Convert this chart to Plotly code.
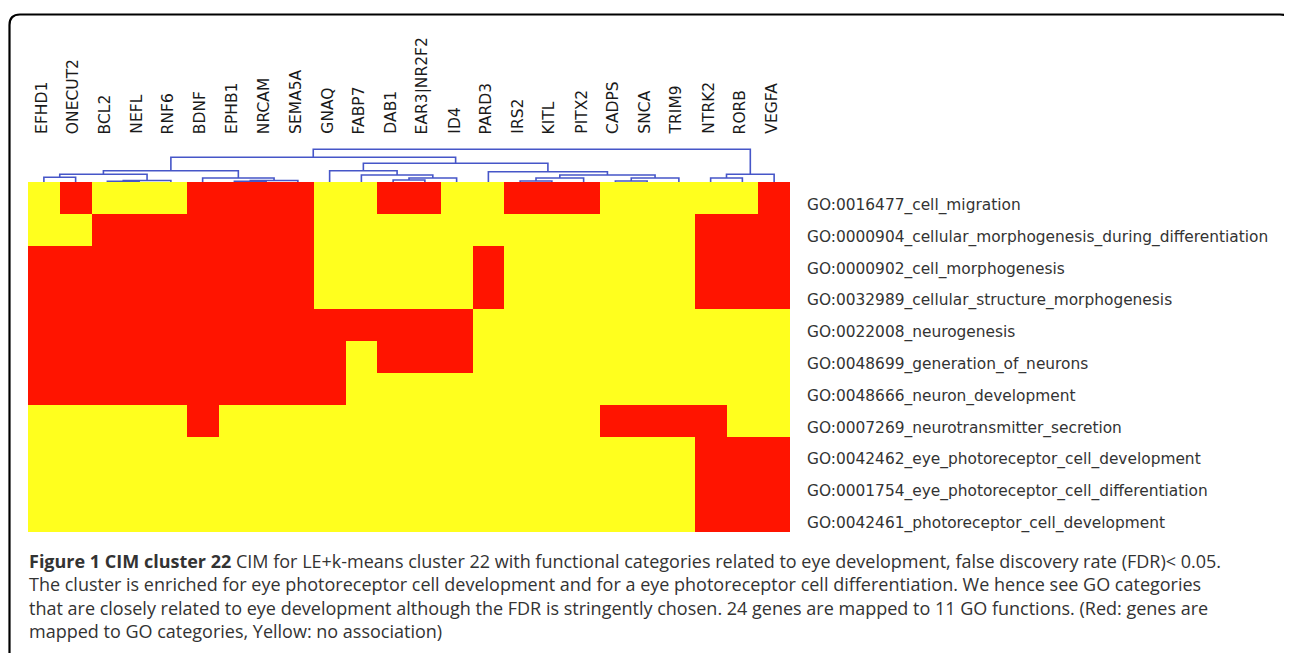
import plotly.graph_objects as go

W, H = 1292, 653
OFF = 8  # default page margin of the html body

genes = ["EFHD1", "ONECUT2", "BCL2", "NEFL", "RNF6", "BDNF", "EPHB1", "NRCAM",
         "SEMA5A", "GNAQ", "FABP7", "DAB1", "EAR3|NR2F2", "ID4", "PARD3", "IRS2",
         "KITL", "PITX2", "CADPS", "SNCA", "TRIM9", "NTRK2", "RORB", "VEGFA"]

go_terms = [
    "GO:0016477_cell_migration",
    "GO:0000904_cellular_morphogenesis_during_differentiation",
    "GO:0000902_cell_morphogenesis",
    "GO:0032989_cellular_structure_morphogenesis",
    "GO:0022008_neurogenesis",
    "GO:0048699_generation_of_neurons",
    "GO:0048666_neuron_development",
    "GO:0007269_neurotransmitter_secretion",
    "GO:0042462_eye_photoreceptor_cell_development",
    "GO:0001754_eye_photoreceptor_cell_differentiation",
    "GO:0042461_photoreceptor_cell_development",
]

# 1 = gene mapped to GO category (red), 0 = no association (yellow)
row_cell_migration = [0,1,0,0,0,1,1,1,1,0,0,1,1,0,0,1,1,1,0,0,0,0,0,1]
row_cell_morph_diff = [0,0,1,1,1,1,1,1,1,0,0,0,0,0,0,0,0,0,0,0,0,1,1,1]
row_cell_morph      = [1,1,1,1,1,1,1,1,1,0,0,0,0,0,1,0,0,0,0,0,0,1,1,1]
row_cell_struct     = [1,1,1,1,1,1,1,1,1,0,0,0,0,0,1,0,0,0,0,0,0,1,1,1]
row_neurogenesis    = [1,1,1,1,1,1,1,1,1,1,1,1,1,1,0,0,0,0,0,0,0,0,0,0]
row_gen_neurons     = [1,1,1,1,1,1,1,1,1,1,0,1,1,1,0,0,0,0,0,0,0,0,0,0]
row_neuron_dev      = [1,1,1,1,1,1,1,1,1,1,0,0,0,0,0,0,0,0,0,0,0,0,0,0]
row_neurotrans      = [0,0,0,0,0,1,0,0,0,0,0,0,0,0,0,0,0,0,1,1,1,1,0,0]
row_eye_pr_dev      = [0,0,0,0,0,0,0,0,0,0,0,0,0,0,0,0,0,0,0,0,0,1,1,1]
row_eye_pr_diff     = [0,0,0,0,0,0,0,0,0,0,0,0,0,0,0,0,0,0,0,0,0,1,1,1]
row_pr_dev          = [0,0,0,0,0,0,0,0,0,0,0,0,0,0,0,0,0,0,0,0,0,1,1,1]

z = [row_cell_migration, row_cell_morph_diff, row_cell_morph, row_cell_struct,
     row_neurogenesis, row_gen_neurons, row_neuron_dev, row_neurotrans,
     row_eye_pr_dev, row_eye_pr_diff, row_pr_dev]

# hierarchical clustering merges (scipy-like): (left, right, height)
# ids 0..23 are leaves, 24+ are merges in order
merge_left   = [2, 24, 0, 26, 6, 28, 5, 27, 11, 32, 10, 9, 15, 36, 18, 38, 37, 14, 35, 31, 21, 44, 43]
merge_right  = [3, 4, 1, 25, 7, 8, 29, 30, 12, 13, 33, 34, 16, 17, 19, 20, 39, 40, 41, 42, 22, 23, 45]
merge_height = [0.6, 1.5, 4.7, 7.7, 0.6, 1.5, 4.0, 11.3, 2.0, 4.0, 7.0, 11.3, 1.0, 4.0, 1.0, 4.0,
                7.0, 10.3, 18.7, 24.7, 4.0, 7.7, 32.7]

caption_bold = "Figure 1 CIM cluster 22"
caption_lines = [
    " CIM for LE+k-means cluster 22 with functional categories related to eye development, false discovery rate (FDR)< 0.05.",
    "The cluster is enriched for eye photoreceptor cell development and for a eye photoreceptor cell differentiation. We hence see GO categories",
    "that are closely related to eye development although the FDR is stringently chosen. 24 genes are mapped to 11 GO functions. (Red: genes are",
    "mapped to GO categories, Yellow: no association)",
]

RED = "#FF1400"
YELLOW = "#FFFF1E"
BLUE = "#4656C8"

# --- layout geometry (page pixels) ---
hm_left, hm_right, hm_top, hm_bottom = 28, 790, 182, 532
dend_span = 34  # px above heatmap for dendrogram axis


def py(y):
    return 1 - (y - OFF) / H


def px(x):
    return (x - OFF) / W


# --- dendrogram coordinates ---
n = len(genes)
pos = {i: (float(i), 0.0) for i in range(n)}
dx, dy = [], []
for k, (a, b, h) in enumerate(zip(merge_left, merge_right, merge_height)):
    xa, ha = pos[a]
    xb, hb = pos[b]
    dx += [xa, xa, xb, xb, None]
    dy += [ha, h, h, hb, None]
    pos[n + k] = ((xa + xb) / 2, h)

fig = go.Figure()
fig.add_trace(go.Heatmap(
    z=z, x=list(range(n)), y=list(range(len(go_terms))),
    colorscale=[[0, YELLOW], [0.5, YELLOW], [0.5, RED], [1, RED]],
    zmin=0, zmax=1, showscale=False, hoverinfo="skip",
))
fig.add_trace(go.Scatter(
    x=dx, y=dy, mode="lines", line=dict(color=BLUE, width=1.6),
    xaxis="x", yaxis="y2", hoverinfo="skip", showlegend=False,
))

annotations = []
for i, g in enumerate(genes):
    annotations.append(dict(
        x=i, xref="x", y=py(136), yref="paper", text=g, textangle=-90,
        showarrow=False, xanchor="center", yanchor="bottom", xshift=-2,
        font=dict(family="DejaVu Sans", size=15.5, color="#1a1a1a"),
    ))
for j, t in enumerate(go_terms):
    annotations.append(dict(
        x=px(805), xref="paper", y=j, yref="y", text=t, showarrow=False,
        xanchor="left", yanchor="middle", yshift=-7.5,
        font=dict(family="DejaVu Sans", size=15.4, color="#333333"),
    ))

caption_text = "<b>" + caption_bold + "</b>" + "<br>".join(caption_lines)
annotations.append(dict(
    x=px(27), xref="paper", y=py(547), yref="paper", text=caption_text,
    showarrow=False, xanchor="left", yanchor="top", align="left",
    font=dict(family="Open Sans", size=18, color="#333333"),
))

# rounded frame
def P(x, y):
    return f"{px(x):.5f},{py(y):.5f}"

frame = (f"M {P(9.5, 670)} L {P(9.5, 25)} Q {P(9.5, 14.5)} {P(20, 14.5)} "
         f"L {P(1280, 14.5)} Q {P(1291, 14.5)} {P(1291, 25)} L {P(1291, 670)}")

fig.update_layout(
    width=W, height=H, margin=dict(l=0, r=0, t=0, b=0),
    paper_bgcolor="white", plot_bgcolor="white",
    xaxis=dict(domain=[px(hm_left), px(hm_right)], range=[-0.5, n - 0.5],
               showticklabels=False, showgrid=False, zeroline=False, ticks=""),
    yaxis=dict(domain=[py(hm_bottom), py(hm_top)], range=[len(go_terms) - 0.5, -0.5],
               showticklabels=False, showgrid=False, zeroline=False, ticks=""),
    yaxis2=dict(domain=[py(hm_top), py(hm_top - dend_span)], range=[0, dend_span],
                anchor="x", showticklabels=False, showgrid=False, zeroline=False, ticks=""),
    annotations=annotations,
    shapes=[dict(type="path", path=frame, xref="paper", yref="paper",
                 line=dict(color="black", width=2.2))],
    showlegend=False,
)

fig.write_html("out.html")
